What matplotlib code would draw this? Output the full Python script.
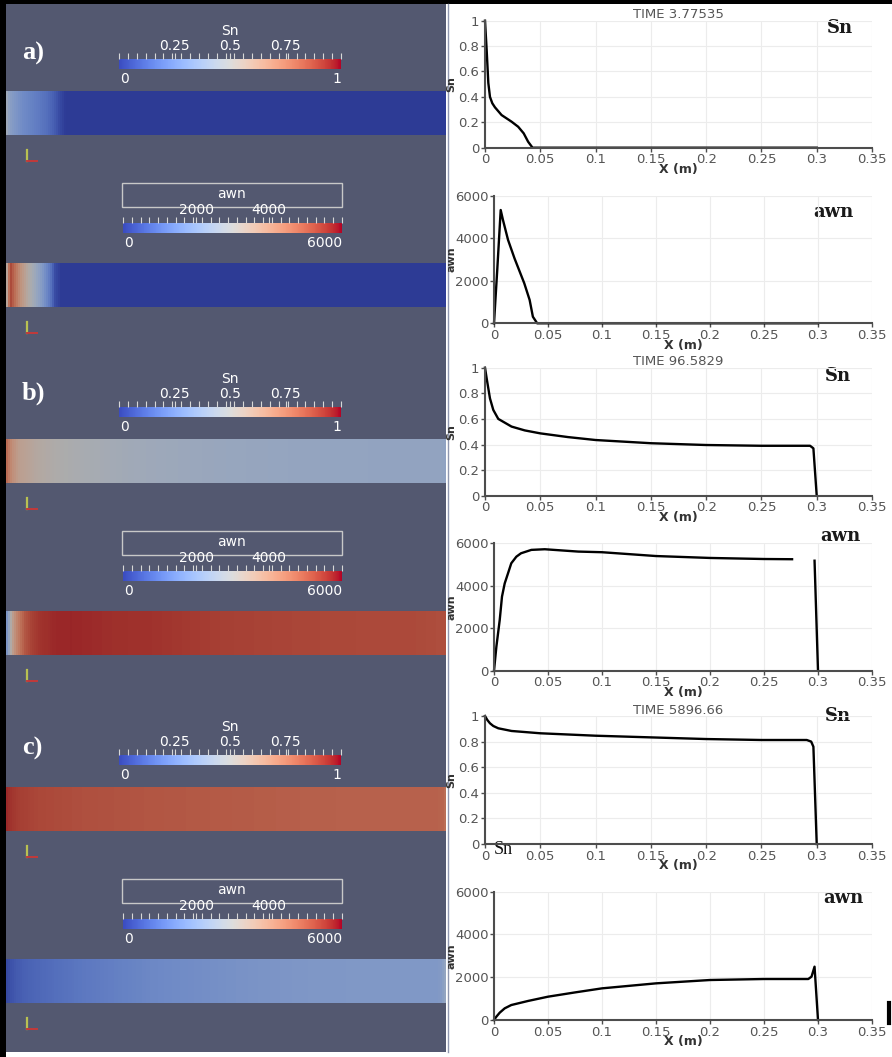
import numpy as np
import matplotlib
matplotlib.use("Agg")
import matplotlib.pyplot as plt
from matplotlib.patches import Rectangle
from matplotlib.cm import ScalarMappable
from matplotlib.colors import Normalize

# profiles, x in m
sn_a_x = [0, 0.0015, 0.003, 0.0045, 0.0066, 0.009, 0.015, 0.024, 0.030, 0.035, 0.039, 0.043, 0.3]
sn_a_y = [1.0, 0.77, 0.51, 0.40, 0.35, 0.318, 0.257, 0.205, 0.165, 0.113, 0.047, 0.0, 0.0]
awn_a_x = [0, 0.003, 0.0062, 0.0083, 0.013, 0.019, 0.028, 0.033, 0.036, 0.040, 0.3]
awn_a_y = [0, 2510, 5340, 4870, 3930, 3060, 1890, 1100, 310, 0, 0]

sn_b_x = [0, 0.0015, 0.0045, 0.0075, 0.012, 0.018, 0.024, 0.036, 0.05, 0.075, 0.1, 0.15,
          0.2, 0.25, 0.294, 0.297, 0.300]
sn_b_y = [1.0, 0.917, 0.76, 0.67, 0.60, 0.57, 0.54, 0.51, 0.487, 0.458, 0.435, 0.41,
          0.396, 0.39, 0.39, 0.37, 0.0]
awn_b_x = [0, 0.0022, 0.0053, 0.0074, 0.0099, 0.013, 0.016, 0.0207, 0.025, 0.0346, 0.047,
           0.078, 0.1, 0.15, 0.2, 0.25, 0.276, 0.286, 0.2968, 0.300]
awn_b_y = [0, 1130, 2390, 3490, 4110, 4590, 5060, 5370, 5530, 5690, 5720,
           5610, 5580, 5400, 5310, 5260, 5250, np.nan, 5180, 0]

sn_c_x = [0, 0.0021, 0.0045, 0.0075, 0.012, 0.024, 0.05, 0.1, 0.15, 0.2, 0.25, 0.291,
          0.295, 0.297, 0.300]
sn_c_y = [1.0, 0.969, 0.943, 0.922, 0.904, 0.883, 0.865, 0.846, 0.833, 0.82, 0.8125, 0.8125,
          0.80, 0.76, 0.0]
awn_c_x = [0, 0.0022, 0.0053, 0.0099, 0.016, 0.0315, 0.05, 0.075, 0.1, 0.15, 0.2, 0.25,
           0.291, 0.294, 0.2968, 0.300]
awn_c_y = [0, 156, 343, 545, 700, 890, 1090, 1290, 1480, 1714, 1870, 1917,
           1917, 2026, 2494, 0]

times = ["3.77535", "96.5829", "5896.66"]
panels = ["a)", "b)", "c)"]
sn_ticks = [0, 0.2, 0.4, 0.6, 0.8, 1]
awn_ticks = [0, 2000, 4000, 6000]
x_ticks = [0, 0.05, 0.1, 0.15, 0.2, 0.25, 0.3, 0.35]

W, H = 892, 1057
fig = plt.figure(figsize=(W / 100, H / 100), dpi=100)
cmap = plt.get_cmap("coolwarm")


def ax_px(x0, y0, x1, y1):
    return fig.add_axes([x0 / W, 1 - y1 / H, (x1 - x0) / W, (y1 - y0) / H])


# background in pixel coords
bg = ax_px(0, 0, W, H)
bg.set_xlim(0, W)
bg.set_ylim(H, 0)
bg.axis("off")
bg.set_zorder(-1)
bg.add_patch(Rectangle((6, 4), 440, 1048, color="#535870", lw=0))
bg.add_patch(Rectangle((0, 0), 6, H, color="k", lw=0))
bg.add_patch(Rectangle((0, 0), W, 4, color="k", lw=0))
bg.plot([447.5, 447.5], [4, 1052], color="#9098b0", lw=1)

rows = [
    (sn_a_x, sn_a_y, awn_a_x, awn_a_y),
    (sn_b_x, sn_b_y, awn_b_x, awn_b_y),
    (sn_c_x, sn_c_y, awn_c_x, awn_c_y),
]
sn_bar_top = [59, 407, 755]
awn_bar_top = [223, 571, 919]
panel_y = [53, 393, 748]
sn_norm = Normalize(0, 1)
awn_norm = Normalize(0, 6000)
shade = 0.78


def strip(top, xs, ys, norm):
    xs = np.array(xs, float)
    ys = np.array(ys, float)
    ok = np.isfinite(ys)
    xc = np.linspace(0.004, 0.296, 220)
    vals = np.interp(xc, xs[ok], ys[ok])
    rgb = cmap(norm(vals))[:, :3] * shade
    sax = ax_px(6, top, 446, top + 44)
    sax.imshow(rgb[None, :, :], aspect="auto", extent=[0, 0.3, 0, 1])
    sax.axis("off")
    # orientation triad under the strip
    base = top + 44 + 26
    bg.plot([27, 27], [base - 11, base], color="#b9c152", lw=1.6)
    bg.plot([27, 37], [base, base], color="#c23a3a", lw=1.4)


def cbar(bt, x0, x1, norm, major, major_lbl, lo, hi):
    cax = ax_px(x0, bt, x1, bt + 10)
    cb = fig.colorbar(ScalarMappable(norm=norm, cmap=cmap), cax=cax, orientation="horizontal")
    cb.outline.set_visible(False)
    cax.xaxis.set_ticks_position("top")
    cax.set_xticks(major)
    cax.set_xticklabels(major_lbl)
    cax.set_xticks(np.linspace(norm.vmin, norm.vmax, 26), minor=True)
    cax.tick_params(which="both", direction="out", length=4, width=0.8, color="#d8d8d8",
                    labelcolor="white", labelsize=10, pad=0)
    bg.text(x0 + 1, bt + 20, lo, color="white", fontsize=10, ha="left", va="center")
    bg.text(x1, bt + 20, hi, color="white", fontsize=10, ha="right", va="center")


for i, (sx, sy, ax_, ay) in enumerate(rows):
    bt = sn_bar_top[i]
    bg.text(22, panel_y[i], panels[i], color="white", fontsize=19, fontweight="bold",
            family="Liberation Serif", va="center", ha="left")
    bg.text(230, bt - 28, "Sn", color="white", fontsize=10, ha="center", va="center")
    cbar(bt, 119, 341, sn_norm, [0.25, 0.5, 0.75], ["0.25", "0.5", "0.75"], "0", "1")
    strip(bt + 32, sx, sy, sn_norm)

    bt = awn_bar_top[i]
    bg.add_patch(Rectangle((122, bt - 40), 220, 24, fill=False, ec="#c8c8c8", lw=1))
    bg.text(232, bt - 29, "awn", color="white", fontsize=10, ha="center", va="center")
    cbar(bt, 123, 342, awn_norm, [2000, 4000], ["2000", "4000"], "0", "6000")
    strip(bt + 40, ax_, ay, awn_norm)

# right-hand line plots
plot_box = [(485, 20.7, 872, 147.7), (494, 196, 872, 323.3),
            (485, 367.7, 872, 495.7), (494, 543.3, 872, 670.7),
            (485, 716, 872, 844), (494, 891.7, 872, 1020)]
tag_pos = [(840, 28), (833, 212), (838, 376), (840, 536), (838, 716), (843, 898)]
grey = "#555555"

for k, box in enumerate(plot_box):
    i, is_awn = k // 2, k % 2 == 1
    xs, ys = (rows[i][2], rows[i][3]) if is_awn else (rows[i][0], rows[i][1])
    ax = ax_px(*box)
    ax.set_facecolor("none")
    ax.plot(xs, ys, color="black", lw=1.7, clip_on=False, solid_joinstyle="round")
    ax.set_xlim(0, 0.35)
    ax.set_xticks(x_ticks)
    ax.set_xticklabels([f"{t:g}" for t in x_ticks])
    if is_awn:
        ax.set_ylim(0, 6000)
        ax.set_yticks(awn_ticks)
        ax.set_yticklabels([str(t) for t in awn_ticks])
        ax.set_ylabel("awn", fontsize=8, fontweight="bold", color="#333333")
        ax.yaxis.set_label_coords(-0.10, 0.5)
    else:
        ax.set_ylim(0, 1)
        ax.set_yticks(sn_ticks)
        ax.set_yticklabels([f"{t:g}" for t in sn_ticks])
        ax.set_ylabel("Sn", fontsize=8, fontweight="bold", color="#333333")
        ax.yaxis.set_label_coords(-0.075, 0.5)
        ax.text(0.5, 1.045, "TIME " + times[i], transform=ax.transAxes, ha="center",
                va="center", fontsize=9.5, color=grey)
    ax.set_xlabel("X (m)", fontsize=9, fontweight="bold", color="#333333")
    ax.xaxis.set_label_coords(0.5, -0.12)
    ax.grid(True, color="#ececec", lw=0.8)
    ax.set_axisbelow(True)
    for s in ["top", "right"]:
        ax.spines[s].set_visible(False)
    for s in ["left", "bottom"]:
        ax.spines[s].set_color("#4d4d4d")
        ax.spines[s].set_linewidth(1.5)
    ax.tick_params(direction="out", length=3, width=1, color="#4d4d4d",
                   labelcolor=grey, labelsize=9.5, pad=1)
    tx, ty = tag_pos[k]
    bg.text(tx, ty, "awn" if is_awn else "Sn", fontsize=13, fontweight="bold",
            family="DejaVu Serif", color="#1a1a1a", ha="center", va="center")

bg.text(503, 850, "Sn", fontsize=13, family="Liberation Serif", color="#111111",
        ha="center", va="center")
bg.plot([888.5, 888.5], [1003, 1023], color="black", lw=3)

fig.savefig("out.png", dpi=100)
